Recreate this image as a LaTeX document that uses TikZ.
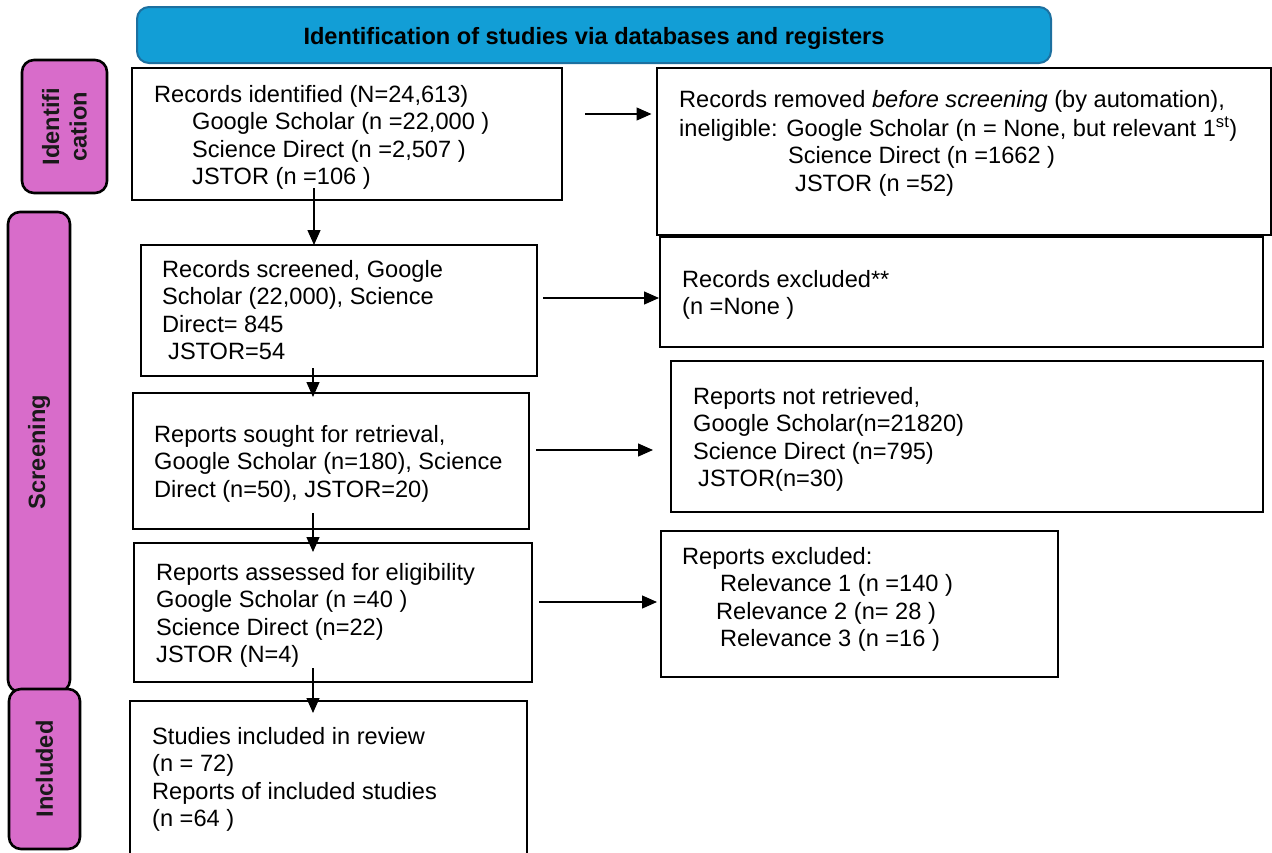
\documentclass[tikz,border=0pt]{standalone}
\usepackage{fontspec}
\setmainfont{Liberation Sans}
\usetikzlibrary{arrows.meta,calc}
\definecolor{hdrblue}{RGB}{18,158,214}
\definecolor{hdredge}{RGB}{28,112,160}
\definecolor{tabpink}{RGB}{216,108,202}
\newcommand\fs{\fontsize{23.6pt}{27.5pt}\selectfont}
\begin{document}
\begin{tikzpicture}[x=1pt,y=-1pt,
  box/.style={draw=black, line width=2.6pt, fill=white, anchor=north west, inner sep=0pt, outer sep=0pt},
  tabbox/.style={draw=black, line width=2.6pt, fill=tabpink, rounded corners=12pt, anchor=north west, inner sep=0pt, outer sep=0pt},
  tabtxt/.style={rotate=90, font=\fs\bfseries, align=center, inner sep=0pt, text=black!90},
  tx/.style={anchor=north west, inner sep=0pt, align=left, font=\fs},
  arr/.style={line width=1.3pt, -{Triangle[length=15pt,width=13pt]}},
]
\useasboundingbox (0,0) rectangle (1272,852);
\clip (0,0) rectangle (1272,852);

% header
\node[draw=hdredge, line width=2pt, fill=hdrblue, rounded corners=12pt, minimum width=914pt, minimum height=56pt, anchor=north west, inner sep=0pt, outer sep=0pt] (hdr) at (137,7) {};
\node[anchor=base, inner sep=0pt, font=\fs\bfseries] (hdrtxt) at (594,44) {Identification of studies via databases and registers};

% side tabs
\node[tabbox, minimum width=85pt, minimum height=133pt] (tabid) at (22,60) {};
\node[tabtxt] (tabidtxt) at (tabid.center) {Identifi\\cation};
\node[tabbox, minimum width=62pt, minimum height=480pt] (tabscr) at (8,212) {};
\node[tabtxt] (tabscrtxt) at (tabscr.center) {Screening};
\node[tabbox, minimum width=71pt, minimum height=160pt] (tabinc) at (9,689) {};
\node[tabtxt] (tabinctxt) at (tabinc.center) {Included};

% boxes
\node[box, minimum width=430pt, minimum height=132pt] (b1) at (132,68) {};
\node[box, minimum width=614.5pt, minimum height=167pt] (b2) at (657,68) {};
\node[box, minimum width=603pt, minimum height=110pt] (excl) at (660,237) {};
\node[box, minimum width=396pt, minimum height=131pt] (b3) at (141,245) {};
\node[box, minimum width=396pt, minimum height=136pt] (b4) at (133,393) {};
\node[box, minimum width=592pt, minimum height=151pt] (notret) at (671,361) {};
\node[box, minimum width=398pt, minimum height=139pt] (b5) at (134,543) {};
\node[box, minimum width=397pt, minimum height=146pt] (repexcl) at (661,531) {};
\node[box, minimum width=397pt, minimum height=175pt] (b6) at (130,701) {};

% texts
\node[tx] (t1) at (154,82.75) {\strut Records identified (N=24,613)\\
\hspace*{38pt}Google Scholar (n =22,000 )\\
\hspace*{38pt}Science Direct (n =2,507 )\\
\hspace*{38pt}JSTOR (n =106 )};
\node[tx] (t2) at (679,87.75) {\strut Records removed \textit{before screening} (by automation),\\
ineligible: Google Scholar (n = None, but relevant 1\textsuperscript{st})\\
\hspace*{109pt}Science Direct (n =1662 )\\
\hspace*{116pt}JSTOR (n =52)};
\node[tx] (t3) at (162,257.75) {\strut Records screened, Google\\
Scholar (22,000), Science\\
Direct= 845\\
\hspace*{6pt}JSTOR=54};
\node[tx] (t4) at (154,422.75) {\strut Reports sought for retrieval,\\
Google Scholar (n=180), Science\\
Direct (n=50), JSTOR=20)};
\node[tx] (t5) at (156,560.75) {\strut Reports assessed for eligibility\\
Google Scholar (n =40 )\\
Science Direct (n=22)\\
JSTOR (N=4)};
\node[tx] (t6) at (152,724.75) {\strut Studies included in review\\
(n = 72)\\
Reports of included studies\\
(n =64 )};
\node[tx] (texcl) at (682,267.75) {\strut Records excluded**\\
(n =None )};
\node[tx] (tnotret) at (693,384.75) {\strut Reports not retrieved,\\
Google Scholar(n=21820)\\
Science Direct (n=795)\\
\hspace*{5pt}JSTOR(n=30)};
\node[tx] (trepexcl) at (682,544.75) {\strut Reports excluded:\\
\hspace*{38pt}Relevance 1 (n =140 )\\
\hspace*{34pt}Relevance 2 (n= 28 )\\
\hspace*{38pt}Relevance 3 (n =16 )};

% vertical arrows
\draw[arr, shorten <=-12pt] (314,0 |- b1.south) -- (314,0 |- b3.north);
\draw[arr, shorten <=-8pt, shorten >=-4pt] (313,0 |- b3.south) -- (313,0 |- b4.north);
\draw[arr, shorten <=-16pt, shorten >=-9pt] (313,0 |- b4.south) -- (313,0 |- b5.north);
\draw[arr, shorten <=-14pt, shorten >=-12pt] (313,0 |- b5.south) -- (313,0 |- b6.north);

% horizontal arrows
\coordinate (h1s) at (585,114);
\coordinate (h2s) at (543,298);
\coordinate (h3s) at (536,450);
\coordinate (h4s) at (539,602);
\draw[arr, shorten >=5.5pt] (h1s) -- (h1s -| b2.west);
\draw[arr, shorten >=1pt] (h2s) -- (h2s -| excl.west);
\draw[arr, shorten >=18pt] (h3s) -- (h3s -| notret.west);
\draw[arr, shorten >=4pt] (h4s) -- (h4s -| repexcl.west);
\end{tikzpicture}
\end{document}
